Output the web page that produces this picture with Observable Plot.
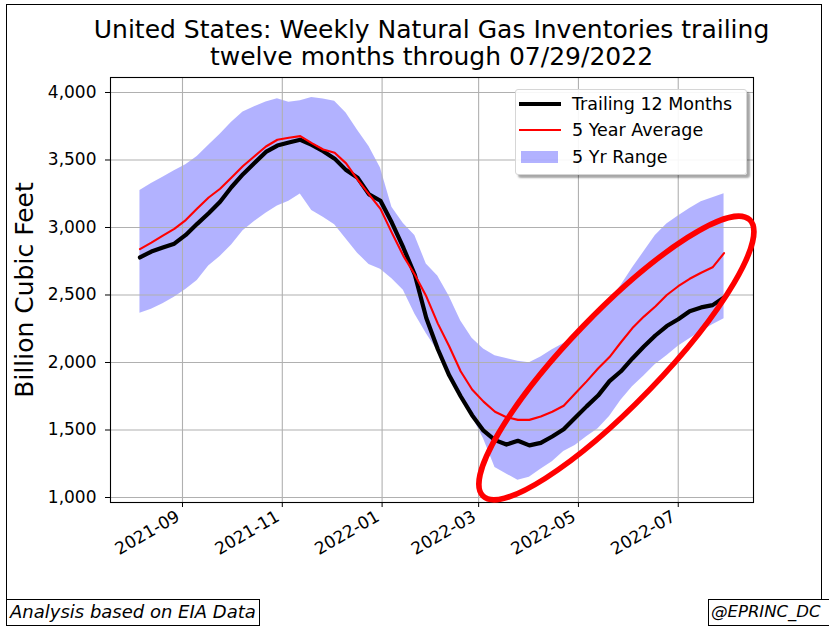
<!DOCTYPE html>
<html>
<head>
<meta charset="utf-8">
<script src="https://cdn.jsdelivr.net/npm/d3@7"></script>
<script src="https://cdn.jsdelivr.net/npm/@observablehq/plot@0.6"></script>
<style>
  html, body { margin: 0; padding: 0; background: #fff; }
  #wrap { position: relative; width: 829px; height: 626px; overflow: hidden; background: #fff; font-family: "DejaVu Sans", sans-serif; color: #000; }
  #border { position: absolute; left: 6px; top: 4px; width: 816px; height: 640px; border: 1px solid #000; box-sizing: border-box; }
  #chart { position: absolute; left: 0; top: 0; }
  .title { position: absolute; left: 0; top: 16px; width: 863px; text-align: center; font-size: 25px; line-height: 27px; white-space: nowrap; }
  .ylabel { position: absolute; left: 25px; top: 289.5px; transform: translate(-50%, -50%) rotate(-90deg); font-size: 25px; white-space: nowrap; line-height: 30px; }
  .legend { position: absolute; left: 515px; top: 89px; width: 232px; height: 86px; box-sizing: border-box; background: rgba(255,255,255,0.9); border: 1px solid #d6d6d6; border-radius: 3px; box-shadow: 3px 3px 2px rgba(0,0,0,0.35); }
  .legend .sw { position: absolute; left: 3px; width: 42px; }
  .legend .lt { position: absolute; left: 56px; font-size: 17.5px; line-height: 20px; white-space: nowrap; }
  .note { position: absolute; top: 599px; height: 27px; box-sizing: border-box; border: 1px solid #000; background: #fff; font-style: italic; font-size: 18px; line-height: 24px; padding: 0 3px; white-space: nowrap; }
</style>
</head>
<body>
<div id="wrap">
  <div id="border"></div>
  <div id="chart"></div>
  <div class="title">United States: Weekly Natural Gas Inventories trailing<br>twelve months through 07/29/2022</div>
  <div class="ylabel">Billion Cubic Feet</div>
  <div class="legend">
    <div class="sw" style="top:12px;height:4.2px;background:#000"></div>
    <div class="lt" style="top:4px">Trailing 12 Months</div>
    <div class="sw" style="top:39px;height:2.1px;background:#f00"></div>
    <div class="lt" style="top:30px">5 Year Average</div>
    <div class="sw" style="top:61px;left:5px;width:37px;height:12px;background:rgba(0,0,255,0.3)"></div>
    <div class="lt" style="top:57px">5 Yr Range</div>
  </div>
  <div class="note" style="left:6px">Analysis based on EIA Data</div>
  <div class="note" style="left:708px;width:200px;font-size:16.5px;padding-left:2px">@EPRINC_DC</div>
</div>
<script>
const dates = [
  "2021-08-06","2021-08-13","2021-08-20","2021-08-27",
  "2021-09-03","2021-09-10","2021-09-17","2021-09-24",
  "2021-10-01","2021-10-08","2021-10-15","2021-10-22","2021-10-29",
  "2021-11-05","2021-11-12","2021-11-19","2021-11-26",
  "2021-12-03","2021-12-10","2021-12-17","2021-12-24","2021-12-31",
  "2022-01-07","2022-01-14","2022-01-21","2022-01-28",
  "2022-02-04","2022-02-11","2022-02-18","2022-02-25",
  "2022-03-04","2022-03-11","2022-03-18","2022-03-25",
  "2022-04-01","2022-04-08","2022-04-15","2022-04-22","2022-04-29",
  "2022-05-06","2022-05-13","2022-05-20","2022-05-27",
  "2022-06-03","2022-06-10","2022-06-17","2022-06-24",
  "2022-07-01","2022-07-08","2022-07-15","2022-07-22","2022-07-29"
];
const trailing12 = [
  2778, 2822, 2852, 2880,
  2945, 3027, 3105, 3190,
  3300, 3395, 3478, 3560, 3607,
  3630, 3650, 3612, 3565,
  3510, 3425, 3368, 3245, 3198,
  3035, 2850, 2650, 2330,
  2100, 1905, 1750, 1610,
  1495, 1425, 1392, 1420,
  1386, 1405, 1452, 1505, 1590,
  1675, 1755, 1862, 1935,
  2030, 2118, 2200, 2270,
  2320, 2380, 2408, 2425, 2482
];
const fiveYearAvg = [
  2840, 2888, 2940, 2990,
  3055, 3140, 3222, 3287,
  3370, 3455, 3528, 3600, 3650,
  3665, 3677, 3625, 3578,
  3553, 3475, 3355, 3245, 3138,
  2960, 2790, 2650, 2490,
  2290, 2120, 1935, 1800,
  1710, 1635, 1595, 1575,
  1575, 1600, 1635, 1680, 1770,
  1860, 1955, 2040, 2150,
  2255, 2340, 2415, 2500,
  2565, 2620, 2665, 2705, 2810
];
const rangeLow = [
  2365, 2395, 2435, 2483,
  2540, 2607, 2715, 2785,
  2870, 2975, 3045, 3105, 3160,
  3195, 3249, 3125, 3075,
  3020, 2915, 2810, 2725, 2690,
  2620, 2535, 2360, 2215,
  2085, 1935, 1745, 1600,
  1435, 1222, 1175, 1128,
  1150, 1210, 1265, 1340, 1385,
  1450, 1510, 1600, 1720,
  1820, 1900, 1985, 2050,
  2120, 2175, 2230, 2280, 2324
];
const rangeHigh = [
  3274, 3325, 3372, 3420,
  3465, 3525, 3610, 3690,
  3780, 3855, 3895, 3930, 3953,
  3928, 3938, 3963, 3952,
  3935, 3848, 3720, 3600, 3440,
  3150, 3030, 2940, 2730,
  2640, 2490, 2310, 2180,
  2100, 2050, 2030, 2010,
  1998, 2040, 2095, 2140, 2200,
  2290, 2370, 2460, 2570,
  2700, 2820, 2940, 3025,
  3085, 3140, 3190, 3220, 3250
];
const xTickLabels = ["2021-09", "2021-11", "2022-01", "2022-03", "2022-05", "2022-07"];
const yTicks = [1000, 1500, 2000, 2500, 3000, 3500, 4000];
const xDomain = ["2021-07-19", "2022-08-16"];
const yDomain = [963, 4111];
const highlight = { date: "2022-05-24T12:00:00Z", value: 2030 };

const data = dates.map((d, i) => ({
  date: new Date(d),
  trailing: trailing12[i],
  avg: fiveYearAvg[i],
  lo: rangeLow[i],
  hi: rangeHigh[i]
}));
const xTicks = xTickLabels.map(s => new Date(s + "-01"));

const ellipseMark = (index, scales) => {
  const cx = scales.x(new Date(highlight.date));
  const cy = scales.y(highlight.value);
  const g = d3.create("svg:g");
  g.append("ellipse")
    .attr("cx", cx).attr("cy", cy)
    .attr("rx", 192).attr("ry", 46)
    .attr("transform", `rotate(-46 ${cx} ${cy})`)
    .attr("fill", "none").attr("stroke", "#ff0000").attr("stroke-width", 5.5);
  return g.node();
};

const chart = Plot.plot({
  width: 829,
  height: 626,
  marginLeft: 110,
  marginRight: 76,
  marginTop: 77,
  marginBottom: 124,
  style: { fontFamily: "DejaVu Sans", fontSize: "17px", color: "#000", background: "transparent", overflow: "visible" },
  x: {
    type: "utc",
    domain: xDomain.map(d => new Date(d)),
    ticks: xTicks,
    tickFormat: d3.utcFormat("%Y-%m"),
    tickRotate: -30,
    tickSize: 5,
    tickPadding: 5,
    label: null
  },
  y: {
    domain: yDomain,
    ticks: yTicks,
    tickFormat: d3.format(","),
    tickSize: 5,
    tickPadding: 9,
    label: null
  },
  marks: [
    Plot.areaY(data, { x: "date", y1: "lo", y2: "hi", fill: "#0000ff", fillOpacity: 0.3 }),
    Plot.ruleX(xTicks, { stroke: "#b0b0b0", strokeWidth: 1.1 }),
    Plot.ruleY(yTicks, { stroke: "#b0b0b0", strokeWidth: 1.1 }),
    Plot.line(data, { x: "date", y: "trailing", stroke: "#000", strokeWidth: 4.2 }),
    Plot.line(data, { x: "date", y: "avg", stroke: "#ff0000", strokeWidth: 2.1 }),
    Plot.frame({ stroke: "#000", strokeWidth: 1.1 }),
    ellipseMark
  ]
});
d3.select(chart).selectAll('[aria-label^="x-axis"] text').attr("dx", -5);
document.getElementById("chart").appendChild(chart);
</script>
</body>
</html>
